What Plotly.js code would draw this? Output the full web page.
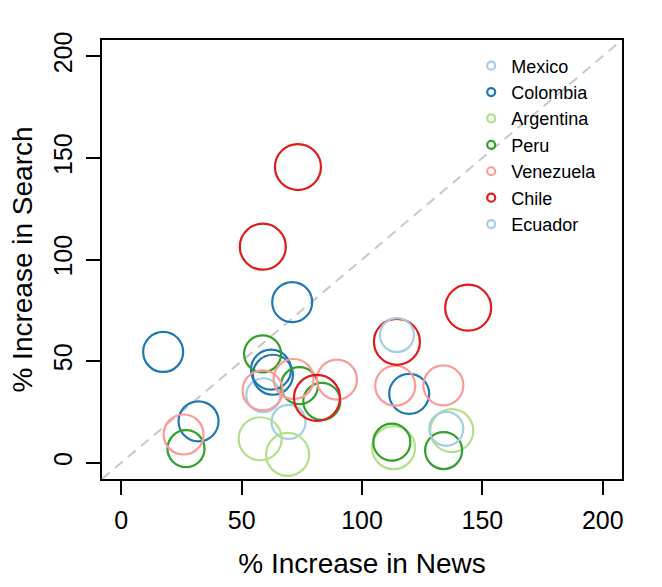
<!DOCTYPE html>
<html>
<head>
<meta charset="utf-8">
<script src="https://cdn.plot.ly/plotly-3.0.1.min.js"></script>
<style>html,body{margin:0;padding:0;background:#fff;}#chart{width:662px;height:587px;}</style>
</head>
<body>
<div id="chart"></div>
<script>
// Countries (legend order) and colours
var countries = ["Mexico", "Colombia", "Argentina", "Peru", "Venezuela", "Chile", "Ecuador"];
var colors = ["#A6CEE3", "#1F78B4", "#B2DF8A", "#33A02C", "#FB9A99", "#E31A1C", "#A6CEE3"];

// % Increase in News (x) and % Increase in Search (y), per country
var mexicoNews = [59.0, 69.5];
var mexicoSearch = [33.2, 20.1];
var colombiaNews = [71.0, 17.4, 62.2, 63.0, 32.1, 119.6];
var colombiaSearch = [79.0, 54.5, 45.8, 43.3, 20.4, 33.9];
var argentinaNews = [57.7, 69.1, 137.3, 113.1];
var argentinaSearch = [11.8, 4.1, 15.8, 7.4];
var peruNews = [58.7, 74.0, 83.3, 26.9, 112.4, 133.9];
var peruSearch = [53.6, 37.9, 30.2, 6.9, 10.1, 6.0];
var venezuelaNews = [58.7, 71.6, 89.6, 25.9, 113.8, 133.8];
var venezuelaSearch = [35.6, 41.2, 40.9, 13.9, 37.9, 38.1];
var chileNews = [73.4, 58.8, 81.3, 144.1, 114.5];
var chileSearch = [145.5, 106.3, 31.9, 76.3, 59.5];
var ecuadorNews = [114.5, 135.0];
var ecuadorSearch = [62.8, 16.7];

var tickVals = [0, 50, 100, 150, 200];

var newsData = [mexicoNews, colombiaNews, argentinaNews, peruNews, venezuelaNews, chileNews, ecuadorNews];
var searchData = [mexicoSearch, colombiaSearch, argentinaSearch, peruSearch, venezuelaSearch, chileSearch, ecuadorSearch];
var circleDiam = [34, 40, 43, 37, 40, 46, 34];

var traces = [];
for (var i = 0; i < countries.length; i++) {
  traces.push({
    type: "scatter", mode: "markers", name: countries[i],
    x: newsData[i], y: searchData[i], showlegend: false, hoverinfo: "x+y+name",
    marker: {symbol: "circle-open", size: circleDiam[i], color: colors[i], line: {width: 2.2, color: colors[i]}}
  });
}
for (var j = 0; j < countries.length; j++) {
  traces.push({
    type: "scatter", mode: "markers", name: countries[j],
    x: [null], y: [null], showlegend: true,
    marker: {symbol: "circle-open", size: 8, color: colors[j], line: {width: 2.2, color: colors[j]}}
  });
}

var font = "Liberation Sans, Arial, Helvetica, sans-serif";
var layout = {
  width: 662, height: 587,
  margin: {l: 102, r: 40, t: 40, b: 108, pad: 0},
  paper_bgcolor: "#fff", plot_bgcolor: "#fff",
  font: {family: font, color: "#000"},
  showlegend: true,
  legend: {
    x: 0.71, y: 0.983, xanchor: "left", yanchor: "top",
    bgcolor: "rgba(0,0,0,0)", borderwidth: 0,
    font: {family: font, size: 18, color: "#000"}
  },
  xaxis: {
    range: [-8, 208], tickvals: tickVals, ticktext: tickVals.map(String),
    showgrid: false, zeroline: false, showline: true, mirror: true,
    linecolor: "#000", linewidth: 2, ticks: "outside", ticklen: 14, tickwidth: 2, tickcolor: "#000",
    tickfont: {size: 25, family: font}, ticklabelstandoff: 4,
    title: {text: "% Increase in News", font: {size: 28, family: font}, standoff: 20}
  },
  yaxis: {
    range: [-8, 208], tickvals: tickVals, ticktext: tickVals.map(String),
    showgrid: false, zeroline: false, showline: true, mirror: true,
    linecolor: "#000", linewidth: 2, ticks: "outside", ticklen: 14, tickwidth: 2, tickcolor: "#000",
    tickfont: {size: 25, family: font}, tickangle: -90, ticklabelstandoff: 4,
    title: {text: "% Increase in Search", font: {size: 28, family: font}, standoff: 8}
  },
  shapes: [{
    type: "line", xref: "x", yref: "y", x0: -8, y0: -8, x1: 208, y1: 208,
    line: {color: "#C8C8C8", width: 2, dash: "10px,7px"}, layer: "below"
  }]
};

Plotly.newPlot("chart", traces, layout, {staticPlot: true, displayModeBar: false});
</script>
</body>
</html>
